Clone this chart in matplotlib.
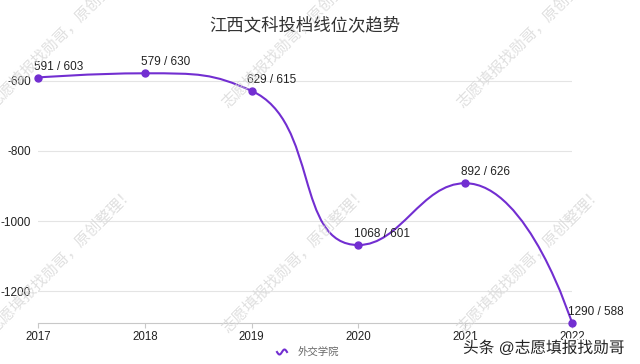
import numpy as np
import matplotlib
matplotlib.use('Agg')
import matplotlib.pyplot as plt
from matplotlib.path import Path
from matplotlib.patches import PathPatch
import matplotlib.patheffects as pe

plt.rcParams['font.family'] = ['Liberation Sans', 'Noto Sans CJK SC', 'DejaVu Sans']
plt.rcParams['axes.unicode_minus'] = False

# data
years = ['2017', '2018', '2019', '2020', '2021', '2022']
rank = [591, 579, 629, 1068, 892, 1290]    # 位次
score = [603, 630, 615, 601, 626, 588]     # 投档分
y_ticks = [-600, -800, -1000, -1200]
series_name = '外交学院'
title = '江西文科投档线位次趋势'
watermark = '志愿填报找勋哥，原创整理！'
credit = '头条 @志愿填报找勋哥'

color = '#722ed1'
W, H = 640, 364

fig = plt.figure(figsize=(W / 100, H / 100), dpi=100)
ax = fig.add_axes([38 / W, 41 / H, (572 - 38) / W, (323 - 73.3) / H])

x = np.arange(len(years))
y = -np.array(rank, dtype=float)
ax.set_xlim(0, len(years) - 1)
ax.set_ylim(y.min(), y.max())

# echarts 风格的平滑曲线 (在像素坐标里算控制点)
pts = ax.transData.transform(np.column_stack([x, y]))
smooth = 0.5
n = len(pts)
verts = [pts[0]]
codes = [Path.MOVETO]
cp0 = pts[0].copy()
for i in range(1, n):
    p = pts[i]
    if i == n - 1:
        cp1 = p.copy()
        nxt_cp0 = p.copy()
    else:
        prev, nxt = pts[i - 1], pts[i + 1]
        v = nxt - prev
        d0 = np.hypot(*(p - prev))
        d1 = np.hypot(*(nxt - p))
        r = d1 / (d0 + d1)
        nc = p + v * smooth * r
        nc = np.clip(nc, np.minimum(nxt, p), np.maximum(nxt, p))
        v = nc - p
        cp1 = p - v * d0 / d1
        cp1 = np.clip(cp1, np.minimum(prev, p), np.maximum(prev, p))
        v = p - cp1
        nxt_cp0 = p + v * d1 / d0
    verts += [cp0, cp1, p]
    codes += [Path.CURVE4] * 3
    cp0 = nxt_cp0
path = Path(ax.transData.inverted().transform(np.array(verts)), codes)
ax.add_patch(PathPatch(path, fill=False, ec=color, lw=1.5, clip_on=False, zorder=3))
ax.plot(x, y, 'o', color=color, ms=5, clip_on=False, zorder=4)

for xi, yi, r, s in zip(x, y, rank, score):
    ax.annotate(f'{r} / {s}', (xi, yi), xytext=(-3, 3.5), textcoords='offset points',
                ha='left', va='bottom', fontsize=8.5, color='#222', zorder=5)

ax.set_xticks(x)
ax.set_xticklabels(years)
ax.set_yticks(y_ticks)
ax.yaxis.grid(True, color='#e4e4e4', lw=0.8)
ax.set_axisbelow(True)
for side in ['top', 'right', 'left']:
    ax.spines[side].set_visible(False)
ax.spines['bottom'].set_color('#c8c8c8')
ax.spines['bottom'].set_linewidth(0.8)
ax.tick_params(axis='x', length=3.6, width=0.8, color='#c8c8c8', pad=2, labelsize=8.3, labelcolor='#222')
ax.tick_params(axis='y', length=0, pad=5, labelsize=8.5, labelcolor='#222')

fig.text(305 / W, 1 - 25 / H, title, ha='center', va='center', fontsize=12.5, color='#333')

# legend
wx = np.linspace(277, 287, 30)
wy = 352 + 2.5 * np.sin((wx - 277) / 10 * 2 * np.pi)
fig.add_artist(plt.Line2D(wx / W, 1 - wy / H, color=color, lw=1.5, transform=fig.transFigure))
fig.text(298 / W, 1 - 352 / H, series_name, ha='left', va='center', fontsize=7.5, color='#666')

# 水印
for sx in [-8, 225, 460]:
    for sy in [105, 330]:
        fig.text(sx / W, 1 - sy / H, watermark, rotation=45, rotation_mode='anchor',
                 ha='left', va='center', fontsize=11, color='#d8d8d8', alpha=0.8, zorder=10)

fig.text(463 / W, 1 - 348 / H, credit, ha='left', va='center', fontsize=11.3, color='#222',
         path_effects=[pe.withStroke(linewidth=2.5, foreground='white')], zorder=11)

fig.savefig('out.png', dpi=100)
